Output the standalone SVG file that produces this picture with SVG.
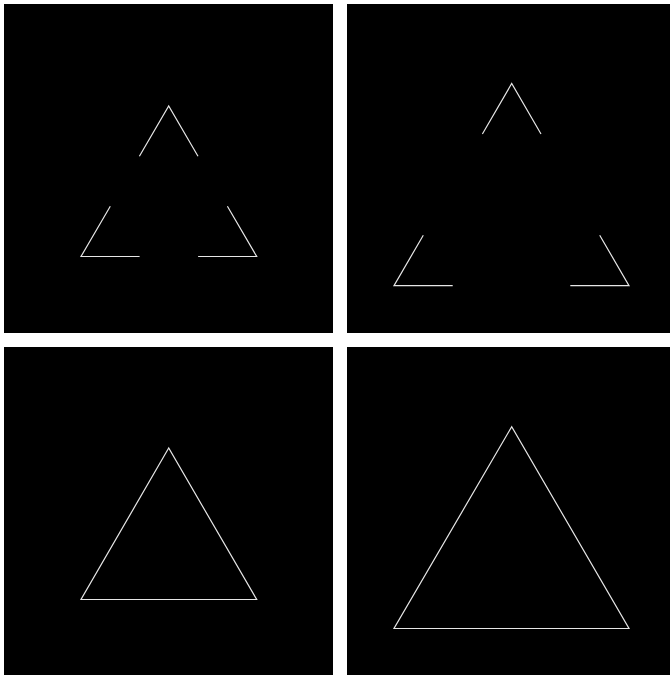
<svg xmlns="http://www.w3.org/2000/svg" width="670" height="675" viewBox="0 0 670 675">
<style>
.panel{fill:#000}
.tri{fill:none;stroke:#e6e6e6;stroke-width:1.2;stroke-linejoin:miter}
</style>
<rect width="670" height="675" fill="#fff"/>
<g id="panel1">
<rect class="panel" x="4" y="4" width="329" height="329"/>
<polyline class="tri" points="139.4,156.2 168.7,106 198,156.2"/>
<polyline class="tri" points="110.3,206.3 81,256.5 139.6,256.5"/>
<polyline class="tri" points="227.4,206.3 256.7,256.5 198.1,256.5"/>
</g>
<g id="panel2">
<rect class="panel" x="347" y="4" width="323" height="329"/>
<polyline class="tri" points="482.4,134 511.7,83.5 541,134"/>
<polyline class="tri" points="423.3,235.2 394,285.7 452.7,285.7"/>
<polyline class="tri" points="599.7,235.2 629,285.7 570.3,285.7"/>
</g>
<g id="panel3">
<rect class="panel" x="4" y="347" width="329" height="328"/>
<polygon class="tri" points="168.7,448 81,599.5 256.7,599.5"/>
</g>
<g id="panel4">
<rect class="panel" x="347" y="347" width="323" height="328"/>
<polygon class="tri" points="511.7,426.7 394,628.5 629,628.5"/>
</g>
<g id="connectors"/>
</svg>
